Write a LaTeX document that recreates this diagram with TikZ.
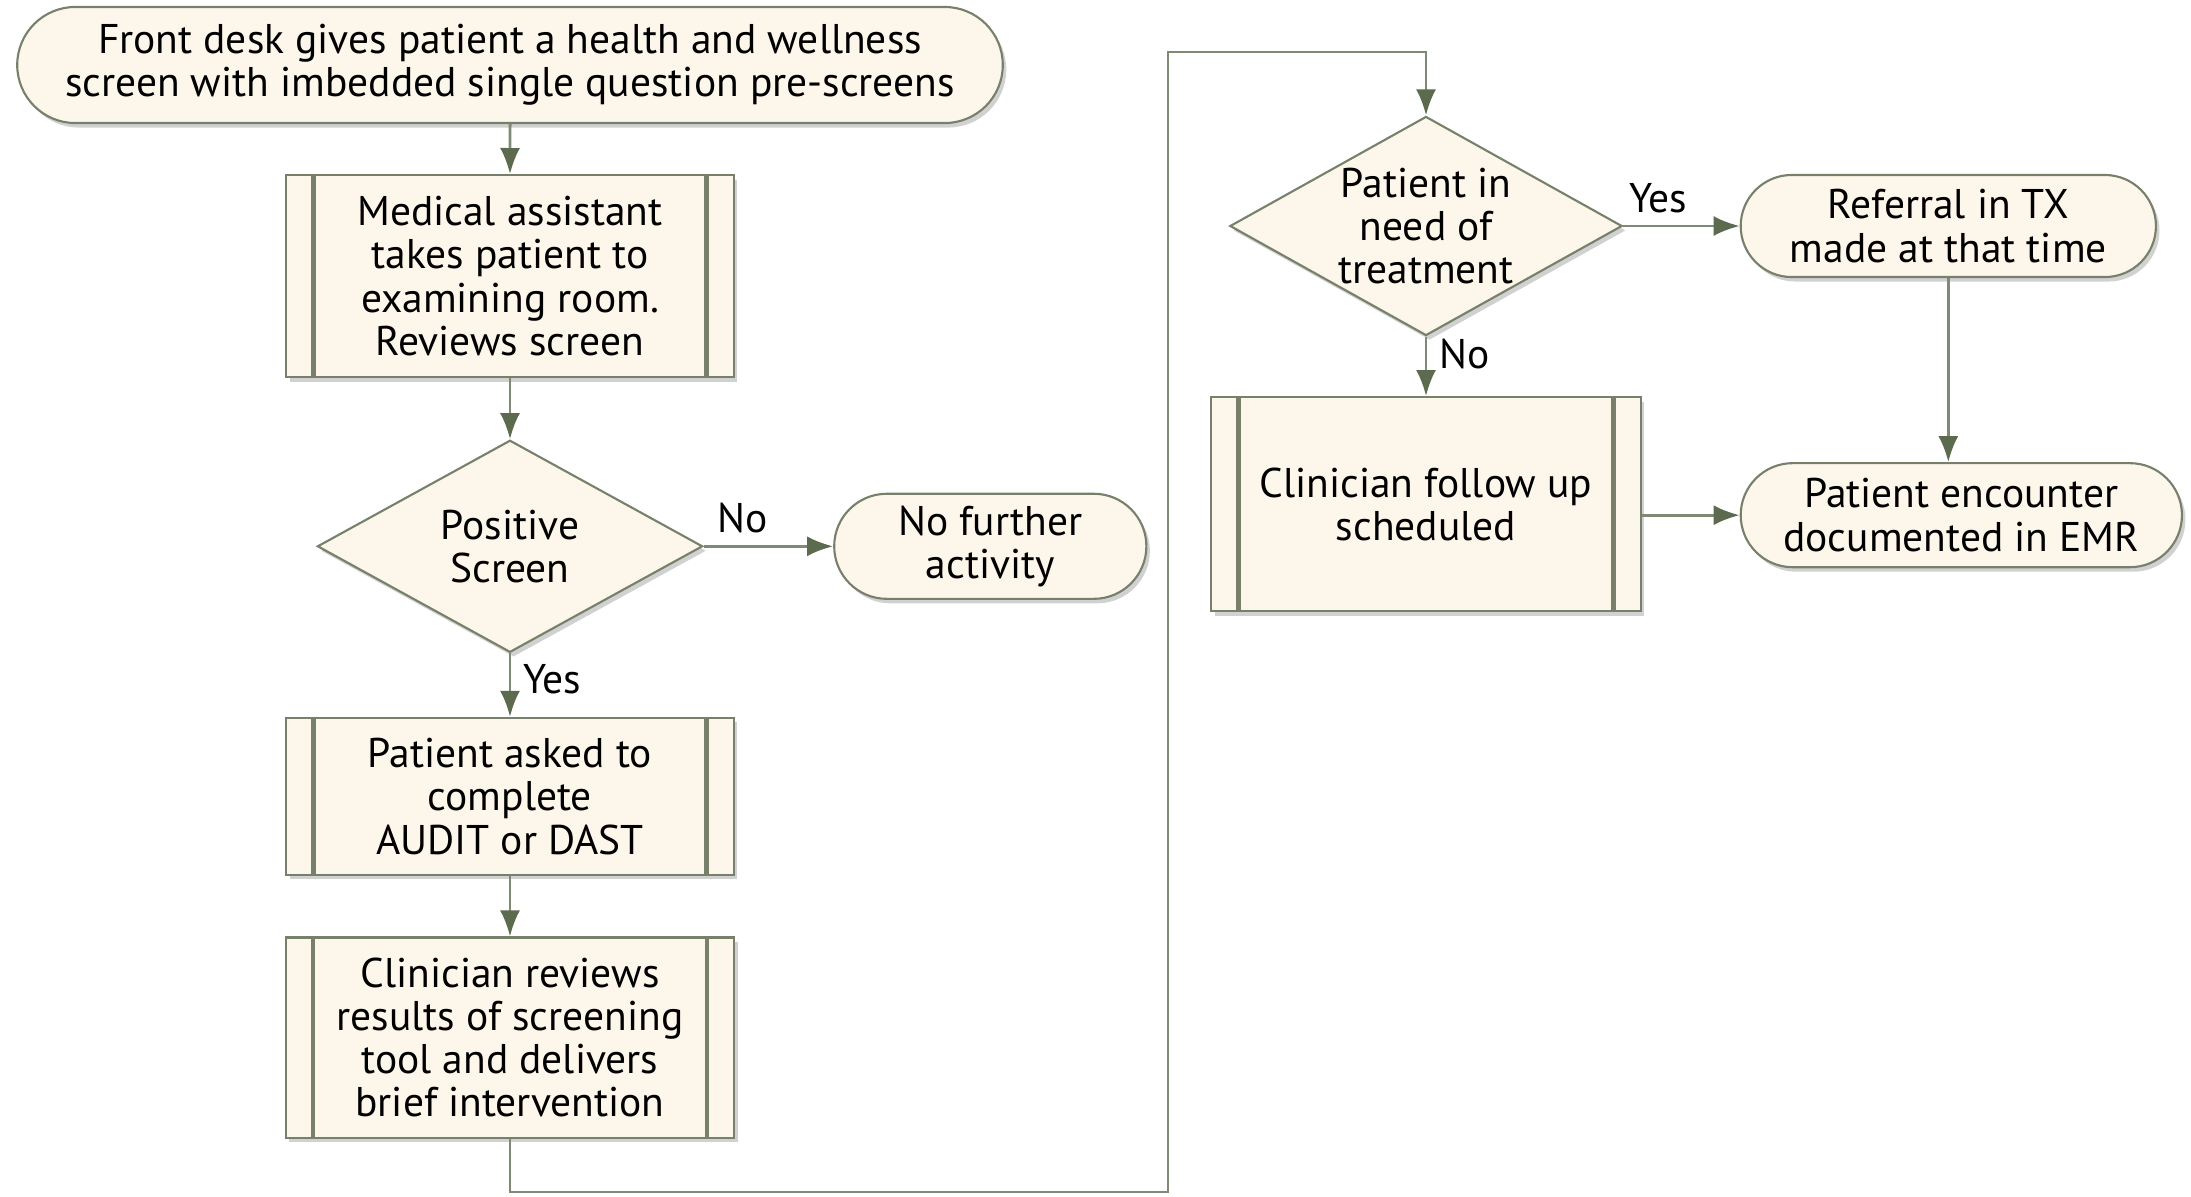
\documentclass[tikz,border=0pt]{standalone}
\usepackage{fontspec}
\setmainfont{PT Sans}
\usetikzlibrary{shapes.geometric, shapes.misc, arrows.meta, shadows}
\definecolor{boxfill}{HTML}{FDF6EA}
\definecolor{boxline}{HTML}{76806A}
\definecolor{arrowline}{HTML}{7F8A74}
\definecolor{arrowhead}{HTML}{5C6A4E}
\tikzset{
	flowchartnode/.style = {text centered, align=center, inner sep=0pt, draw=boxline, line width=0.6pt, fill=boxfill, text=black,
		drop shadow={shadow xshift=0.35mm, shadow yshift=-0.45mm, fill=black!45, opacity=0.4}},
	terminal/.style = {rounded rectangle, flowchartnode},
	process/.style = {rectangle, flowchartnode, path picture={
		\draw[boxline, line width=1.3pt] ([xshift=2.7mm]path picture bounding box.north west) -- ([xshift=2.7mm]path picture bounding box.south west);
		\draw[boxline, line width=1.3pt] ([xshift=-2.7mm]path picture bounding box.north east) -- ([xshift=-2.7mm]path picture bounding box.south east);}},
	decision/.style = {diamond, flowchartnode, shape aspect=1.8, inner sep=-0.8mm},
	line/.style = {draw=arrowline, line width=0.8pt, -{Latex[length=2.6mm, width=2mm, color=arrowhead]}}
}

\begin{document}
\begin{tikzpicture}[x=0.01cm, y=-0.01cm, node distance=2.5cm, font=\fontsize{11.8}{12.3}\selectfont]
	\useasboundingbox (0,0) rectangle (2191,1196);
	% nodes
	\node (start) [terminal, minimum width=9.85cm, minimum height=1.16cm] at (510,65) {Front desk gives patient a health and wellness\\screen with imbedded single question pre-screens};
	\node (assistant) [process, below of=start, yshift=0.39cm, minimum width=4.47cm, minimum height=2.02cm] {Medical assistant\\takes patient to\\examining room.\\Reviews screen};
	\node (positive) [decision, below of=assistant, yshift=-0.2cm, minimum width=3.85cm, minimum height=2.12cm] {Positive\\Screen};
	\node (nofurther) [terminal, right of=positive, xshift=2.3cm, minimum width=3.12cm, minimum height=1.05cm] {No further\\activity};
	\node (asked) [process, below of=positive, minimum width=4.47cm, minimum height=1.57cm] {Patient asked to\\complete\\AUDIT or DAST};
	\node (reviews) [process, below of=asked, yshift=0.09cm, minimum width=4.48cm, minimum height=2.0cm] {Clinician reviews\\results of screening\\tool and delivers\\brief intervention};
	\node (need) [decision, minimum width=3.92cm, minimum height=2.19cm] at (1426,226) {Patient in\\need of\\treatment};
	\node (followup) [process, below of=need, yshift=-0.28cm, minimum width=4.29cm, minimum height=2.14cm] {Clinician follow up\\scheduled};
	\node (referral) [terminal, right of=need, xshift=2.72cm, minimum width=4.15cm, minimum height=1.02cm] {Referral in TX\\made at that time};
	\node (encounter) [terminal, below of=referral, xshift=0.13cm, yshift=-0.39cm, minimum width=4.41cm, minimum height=1.04cm] {Patient encounter\\documented in EMR};
	\coordinate (loopbottom) at (1168,1192);
	\coordinate (looptop) at (1168,52);

	% connectors
	\path [line] (start) -- (assistant);
	\path [line] (assistant) -- (positive);
	\path [line] (positive) -- node[anchor=south, pos=0.3, text=black] {No} (nofurther);
	\path [line] (positive) -- node[anchor=west, pos=0.4, text=black] {Yes} (asked);
	\path [line] (asked) -- (reviews);
	\path [line] (reviews.south) |- (loopbottom) -- (looptop) -| (need.north);
	\path [line] (need) -- node[anchor=south, pos=0.3, text=black] {Yes} (referral);
	\path [line] (need) -- node[anchor=west, pos=0.3, text=black] {No} (followup);
	\path [line] (referral.south) -- (referral.south |- encounter.north);
	\path [line] (followup.east |- encounter.west) -- (encounter.west);
\end{tikzpicture}
\end{document}
